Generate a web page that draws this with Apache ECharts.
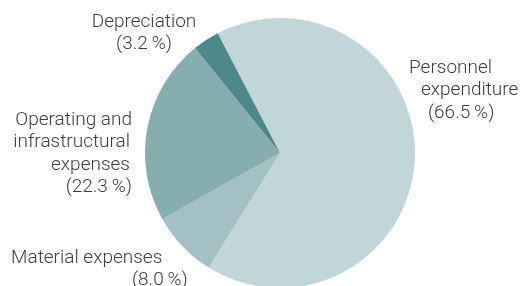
<!DOCTYPE html>
<html>
<head>
<meta charset="utf-8">
<script src="https://cdn.jsdelivr.net/npm/echarts@6/dist/echarts.min.js"></script>
<style>
  html, body { margin: 0; padding: 0; background: #fff; }
  #chart { width: 522px; height: 286px; }
</style>
</head>
<body>
<div id="chart"></div>
<script>
// slices, clockwise from the top-left edge
const names = ['Personnel\nexpenditure', 'Material expenses', 'Operating and\ninfrastructural\nexpenses', 'Depreciation'];
const shares = [66.5, 8.0, 22.3, 3.2];
const colors = ['#c0d6d9', '#a3c0c4', '#86adaf', '#4d888a'];

// where each label sits and how its lines are indented
const labelPlace = [
  { x: 409, y: 57, align: 'left', pads: [0, 12, 19] },
  { x: 11, y: 247, align: 'left', pads: [0, 121] },
  { x: 132, y: 109, align: 'right', pads: [0, 2, 2, 0] },
  { x: 144, y: 11, align: 'center', pads: [0, 0] }
];

const font = { fontFamily: 'Roboto', fontWeight: 300, fontSize: 19, color: '#3d3d3d', lineHeight: 22.3 };

const data = names.map((n, i) => {
  const lines = n.split('\n').concat('(' + shares[i].toFixed(1) + '\u2009%)');
  const p = labelPlace[i];
  const rich = {};
  lines.forEach((l, k) => {
    rich['l' + k] = Object.assign({}, font, {
      padding: p.align === 'right' ? [0, p.pads[k], 0, 0] : [0, 0, 0, p.pads[k]]
    });
  });
  return {
    name: n,
    value: shares[i],
    itemStyle: { color: colors[i] },
    label: {
      formatter: lines.map((l, k) => '{l' + k + '|' + l + '}').join('\n'),
      rich: rich
    }
  };
});

const chart = echarts.init(document.getElementById('chart'));
chart.setOption({
  animation: false,
  series: [{
    type: 'pie',
    center: [280, 153],
    radius: 135,
    startAngle: 117.5,
    clockwise: true,
    avoidLabelOverlap: false,
    silent: true,
    itemStyle: { borderWidth: 0 },
    label: Object.assign({ show: true, position: 'outside' }, font),
    labelLine: { show: false },
    labelLayout: function (params) {
      const p = labelPlace[params.dataIndex];
      return { x: p.x, y: p.y, align: p.align, verticalAlign: 'top', hideOverlap: false };
    },
    data: data
  }]
});
</script>
</body>
</html>
